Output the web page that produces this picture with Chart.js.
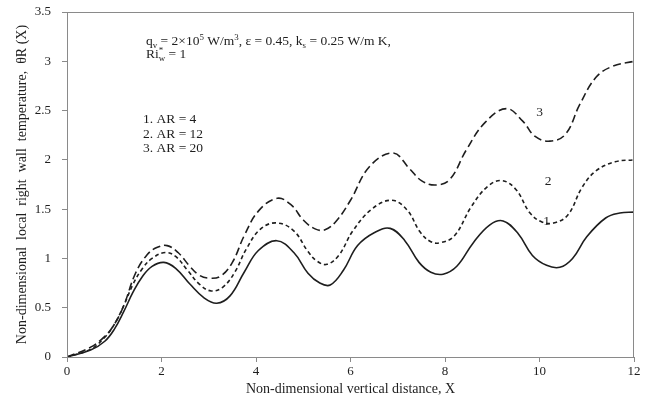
<!DOCTYPE html>
<html>
<head>
<meta charset="utf-8">
<script src="https://cdn.jsdelivr.net/npm/chart.js@4.4.0/dist/chart.umd.min.js"></script>
<style>
  html, body { margin: 0; padding: 0; background: #fff; }
  #wrap { width: 650px; height: 406px; }
</style>
</head>
<body>
<div id="wrap"><canvas id="tempChart"></canvas></div>
<script>
const serif = "'Liberation Serif', 'Times New Roman', serif";
const ink = "#1e1e1e";
const frame = "#8a8a8a";

// curve 1: AR = 4 (solid)
const xAR4 = [0, 0.5, 0.8, 1.0, 1.2, 1.4, 1.6, 1.8, 2.05, 2.3, 2.6, 2.9, 3.17, 3.45, 3.75, 4.05, 4.44, 4.8, 5.1, 5.35, 5.57, 5.85, 6.15, 6.5, 6.84, 7.15, 7.45, 7.7, 7.96, 8.25, 8.6, 8.95, 9.23, 9.55, 9.85, 10.15, 10.43, 10.7, 11.0, 11.4, 11.7, 12];
const yAR4 = [0, 0.07, 0.16, 0.28, 0.46, 0.66, 0.82, 0.92, 0.96, 0.9, 0.74, 0.6, 0.545, 0.62, 0.86, 1.08, 1.18, 1.06, 0.85, 0.75, 0.73, 0.88, 1.13, 1.26, 1.305, 1.18, 0.96, 0.86, 0.84, 0.92, 1.16, 1.34, 1.38, 1.25, 1.03, 0.93, 0.91, 1.0, 1.22, 1.41, 1.46, 1.47];

// curve 2: AR = 12 (short dash)
const xAR12 = [0, 0.5, 0.8, 1.0, 1.2, 1.4, 1.6, 1.8, 2.08, 2.3, 2.55, 2.8, 3.05, 3.3, 3.55, 3.8, 4.1, 4.44, 4.8, 5.1, 5.3, 5.5, 5.75, 6.05, 6.45, 6.87, 7.2, 7.47, 7.7, 7.9, 8.2, 8.55, 8.9, 9.2, 9.5, 9.8, 10.05, 10.3, 10.6, 10.9, 11.2, 11.6, 12];
const yAR12 = [0, 0.08, 0.2, 0.33, 0.52, 0.74, 0.9, 1.0, 1.06, 1.02, 0.88, 0.74, 0.67, 0.71, 0.86, 1.1, 1.3, 1.36, 1.28, 1.07, 0.97, 0.94, 1.03, 1.28, 1.5, 1.59, 1.49, 1.27, 1.17, 1.16, 1.23, 1.52, 1.73, 1.79, 1.7, 1.46, 1.37, 1.36, 1.44, 1.72, 1.89, 1.98, 2.0];

// curve 3: AR = 20 (long dash)
const xAR20 = [0, 0.5, 0.8, 1.0, 1.2, 1.45, 1.7, 1.9, 2.12, 2.35, 2.6, 2.8, 3.0, 3.25, 3.5, 3.75, 4.05, 4.45, 4.75, 5.0, 5.25, 5.46, 5.7, 6.0, 6.4, 6.9, 7.25, 7.5, 7.8, 8.1, 8.45, 8.85, 9.3, 9.65, 9.9, 10.22, 10.55, 10.85, 11.2, 11.55, 12];
const yAR20 = [0, 0.1, 0.21, 0.33, 0.52, 0.85, 1.04, 1.11, 1.13, 1.06, 0.92, 0.83, 0.8, 0.82, 0.96, 1.23, 1.48, 1.61, 1.54, 1.39, 1.3, 1.29, 1.38, 1.59, 1.93, 2.07, 1.91, 1.79, 1.745, 1.8, 2.1, 2.38, 2.52, 2.39, 2.24, 2.19, 2.26, 2.56, 2.84, 2.95, 3.0];

const xTicks = [0, 2, 4, 6, 8, 10, 12];
const yTicks = [0, 0.5, 1, 1.5, 2, 2.5, 3, 3.5];

// curve numbers placed beside the lines (data coordinates)
const curveTags = [
  { text: "3", x: 10.0, y: 2.48 },
  { text: "2", x: 10.18, y: 1.78 },
  { text: "1", x: 10.15, y: 1.38 }
];
const caseLines = ["1. AR = 4", "2. AR = 12", "3. AR = 20"];

const pts = (xs, ys) => xs.map((v, i) => ({ x: v, y: ys[i] }));

// draws text with sub/superscripts, [text, kind, stackOnPrevious]
function richText(ctx, parts, x, y, size) {
  let lastW = 0;
  parts.forEach(([t, kind, stack]) => {
    let fs = size, dy = 0;
    if (kind === "sub") { fs = size * 0.66; dy = size * 0.2; }
    if (kind === "sup") { fs = size * 0.66; dy = -size * 0.36; }
    ctx.font = `${fs}px ${serif}`;
    if (stack) x -= lastW;
    ctx.fillText(t, x, y + dy);
    const w = ctx.measureText(t).width;
    x += stack ? Math.max(w, lastW) : w;
    lastW = w;
  });
}

const notes = {
  id: "notes",
  afterDraw(chart) {
    const { ctx, chartArea: a, scales } = chart;
    ctx.save();
    // plot frame
    ctx.strokeStyle = frame;
    ctx.lineWidth = 1;
    ctx.strokeRect(Math.round(a.left) + 0.5, Math.round(a.top) + 0.5, Math.round(a.right - a.left) - 1, Math.round(a.bottom - a.top));

    ctx.fillStyle = ink;
    ctx.textBaseline = "alphabetic";
    ctx.textAlign = "left";
    richText(ctx, [["q"], ["v", "sub"], [" = 2×10"], ["5", "sup"], [" W/m"], ["3", "sup"],
      [", ε = 0.45, k"], ["s", "sub"], [" = 0.25 W/m K,"]], 146, 45, 13.5);
    richText(ctx, [["Ri"], ["w", "sub"], ["*", "sup", true], [" = 1"]], 146, 58, 13.5);

    ctx.font = `13.5px ${serif}`;
    caseLines.forEach((t, i) => ctx.fillText(t, 143, 123 + i * 14.5));

    ctx.textAlign = "center";
    ctx.textBaseline = "middle";
    curveTags.forEach(t => {
      ctx.fillText(t.text, scales.x.getPixelForValue(t.x), scales.y.getPixelForValue(t.y));
    });
    ctx.restore();
  }
};

const lineSet = (label, xs, ys, dash) => ({
  label,
  data: pts(xs, ys),
  showLine: true,
  borderColor: ink,
  borderWidth: 1.6,
  borderDash: dash,
  pointRadius: 0,
  tension: 0.4,
  fill: false
});

new Chart(document.getElementById("tempChart"), {
  type: "scatter",
  data: {
    datasets: [
      lineSet("AR = 4", xAR4, yAR4, []),
      lineSet("AR = 12", xAR12, yAR12, [4, 3]),
      lineSet("AR = 20", xAR20, yAR20, [8, 4])
    ]
  },
  options: {
    responsive: true,
    maintainAspectRatio: false,
    animation: false,
    layout: { padding: { top: 12, right: 16, left: 0, bottom: 0 } },
    plugins: { legend: { display: false }, tooltip: { enabled: false } },
    scales: {
      x: {
        type: "linear",
        min: 0,
        max: 12,
        afterBuildTicks: s => { s.ticks = xTicks.map(v => ({ value: v })); },
        afterFit: s => { s.height = 49; },
        grid: { drawOnChartArea: false, drawTicks: true, tickLength: 5, color: frame },
        border: { display: true, color: frame },
        ticks: { color: ink, font: { family: serif, size: 13 }, padding: 2, callback: v => String(v) },
        title: {
          display: true,
          text: "Non-dimensional vertical distance, X",
          color: ink,
          font: { family: serif, size: 14 },
          padding: { top: 2, bottom: 8 }
        }
      },
      y: {
        type: "linear",
        min: 0,
        max: 3.5,
        afterBuildTicks: s => { s.ticks = yTicks.map(v => ({ value: v })); },
        afterFit: s => { s.width = 67; s.paddingTop = 0; s.paddingBottom = 0; },
        grid: { drawOnChartArea: false, drawTicks: true, tickLength: 5, color: frame },
        border: { display: true, color: frame },
        ticks: { color: ink, font: { family: serif, size: 13 }, padding: 11, callback: v => String(v) },
        title: {
          display: true,
          text: "Non-dimensional  local  right  wall  temperature,  θR (X)",
          color: ink,
          font: { family: serif, size: 14 },
          padding: { top: 14, bottom: 0 }
        }
      }
    }
  },
  plugins: [notes]
});
</script>
</body>
</html>
